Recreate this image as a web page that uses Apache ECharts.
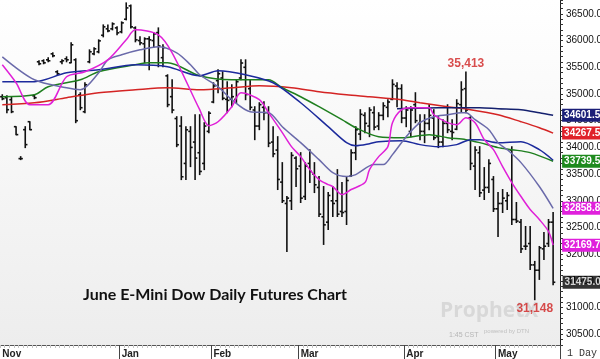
<!DOCTYPE html>
<html><head><meta charset="utf-8">
<script src="https://cdn.jsdelivr.net/npm/echarts@6.0.0/dist/echarts.min.js"></script>
<style>html,body{margin:0;padding:0;background:#fff}#c{width:600px;height:359px}</style>
</head><body><div id="c"></div>
<script>
// ---- categories: trading days Nov 24 2021 .. May 18 2022 ----
const dates = ['11/24','11/26','11/29','11/30',
'12/1','12/2','12/3','12/6','12/7','12/8','12/9','12/10','12/13','12/14','12/15','12/16','12/17','12/20','12/21','12/22','12/23','12/27','12/28','12/29','12/30','12/31',
'1/3','1/4','1/5','1/6','1/7','1/10','1/11','1/12','1/13','1/14','1/18','1/19','1/20','1/21','1/24','1/25','1/26','1/27','1/28','1/31',
'2/1','2/2','2/3','2/4','2/7','2/8','2/9','2/10','2/11','2/14','2/15','2/16','2/17','2/18','2/22','2/23','2/24','2/25','2/28',
'3/1','3/2','3/3','3/4','3/7','3/8','3/9','3/10','3/11','3/14','3/15','3/16','3/17','3/18','3/21','3/22','3/23','3/24','3/25','3/28','3/29','3/30','3/31',
'4/1','4/4','4/5','4/6','4/7','4/8','4/11','4/12','4/13','4/14','4/18','4/19','4/20','4/21','4/22','4/25','4/26','4/27','4/28','4/29',
'5/2','5/3','5/4','5/5','5/6','5/9','5/10','5/11','5/12','5/13','5/16','5/17','5/18'];
const monthNames = {'11':'Nov','1':'Jan','2':'Feb','3':'Mar','4':'Apr','5':'May'};

// ---- OHLC ----
const opens = [34949,34930,34893,34388,33790,34332,34481,34967,35603,35622,35640,35752,35416,35603,35659,35584,35640,34986,34668,35603,35752,35790,36100,36220,36220,36238,
36164,36400,36650,36238,36000,35940,36033,36000,36150,35680,35340,34950,34540,34400,33700,34300,34100,33900,33700,34300,
34850,35250,35300,34900,34900,34900,35300,35500,35100,34700,34400,34750,34650,34100,33950,33350,32950,33000,33800,
33650,33080,33700,33500,33250,32700,32600,33000,33000,32800,32800,33460,33900,34250,34600,34400,34650,34400,34600,34750,34900,35150,35100,
34550,34300,34800,34450,34300,34450,34550,34200,34100,34450,34300,34340,34800,35100,34550,33650,33900,33200,33250,33400,
32850,32950,33000,33950,32650,32600,32150,32200,31800,31700,32100,32200,32600];
const highs = [34986,34967,34949,34388,33827,34388,34481,34986,35622,35640,35678,35771,35435,35640,35696,35958,35659,35024,35210,35827,35865,36014,36294,36294,36332,36257,
36351,36706,36668,36257,36070,36052,36070,36145,36238,35921,35360,35266,34575,34575,34388,34388,34612,34612,34463,34668,
35210,35453,35416,35229,35173,35266,35640,35640,35266,34762,34836,34855,34762,34388,34201,33715,33080,33902,33827,
33902,33715,33958,33715,33454,33267,33154,33267,33584,33341,33454,33958,34388,34706,34650,34743,34762,34650,34836,34893,35266,35210,35173,
34762,34762,35024,34612,34612,34799,34706,34575,34519,34799,34519,34893,35229,35413,34575,34014,34014,33622,33771,33454,
33154,33211,33154,34014,32968,32650,32519,32519,31865,32145,32407,32650,32781];
const lows = [34893,34650,34650,34239,33771,33996,34332,34911,35547,35566,35603,35696,35360,35566,35603,35584,34463,34706,34650,35584,35734,35771,36070,36164,36201,36108,
36145,36388,36238,35977,35921,35584,35453,35883,35510,35510,34762,34650,34014,33397,33397,33640,33397,33491,33584,34276,
34836,35024,34893,34650,34762,34836,35266,34893,34706,34145,34332,34519,34014,33827,33211,32968,32052,32837,33267,
32968,33024,33341,33154,32706,32183,32463,32706,32706,32706,32556,33454,33771,34145,34276,34201,34332,34332,34519,34575,34893,34762,34463,
34388,34201,34463,34145,34089,34332,34145,33996,34014,34276,34145,34332,34668,34650,33584,33211,33080,33024,33154,32800,
32332,32781,32837,32556,32593,32033,32089,31715,31148,31528,31902,32145,31430];
const closes = [34911,34706,34668,34239,33790,34052,34332,34930,35566,35584,35622,35715,35378,35622,35640,35921,34500,34743,35173,35790,35846,35995,36257,36182,36313,36145,
36332,36612,36257,36014,35958,36033,36014,36126,35900,35870,34800,34700,34050,33450,34330,34000,33800,33550,34400,34640,
35150,35380,34920,34880,34950,35230,35580,34990,34750,34400,34800,34650,34080,33880,33400,33000,33050,33850,33600,
33050,33650,33550,33300,32750,32550,33100,32950,32750,32780,33380,33900,34330,34620,34450,34700,34380,34600,34780,34850,35180,35100,34550,
34700,34700,34500,34300,34450,34600,34180,34100,34450,34330,34280,34820,35080,34700,33700,33950,33150,33250,33700,32850,
32950,33050,33100,32650,32620,32100,32150,31800,31700,32120,32150,32600,31475];

// ---- moving averages, read at sampled days: [dayIndex, value] ----
const maMagenta = [[0,35547],[3,35210],[6,34799],[10,34799],[14,35322],[18,35416],[23,35640],[27,36014],[29,36201],[34,36108],[37,35771],[43,34706],[45,34407],[47,34481],[50,34762],[52,35024],[56,34893],[58,34650],[61,34276],[63,34014],[65,33827],[67,33584],[69,33397],[71,33304],[72,33267],[74,33117],[76,33211],[79,33341],[80,33584],[82,33827],[84,34014],[85,34463],[87,34706],[89,34743],[93,34743],[94,34612],[97,34463],[99,34425],[101,34556],[103,34463],[105,34145],[107,33958],[109,33640],[111,33341],[113,33080],[115,32837],[117,32650],[119,32425],[120,32169.70]];
const maSlate = [[0,35696],[7,35266],[14,35117],[17,35080],[21,35397],[23,35640],[26,35734],[30,35827],[34,35883],[38,35771],[41,35547],[43,35360],[47,35136],[50,34893],[54,34668],[58,34650],[61,34388],[65,34089],[69,33771],[72,33528],[75,33454],[77,33491],[81,33678],[83,33678],[85,33865],[88,34201],[91,34463],[94,34575],[97,34612],[100,34650],[101,34650],[103,34519],[106,34332],[108,34089],[110,33958],[113,33715],[117,33267],[120,32858.85]];
const maBlue = [[0,35229],[7,35229],[14,35397],[21,35453],[29,35547],[36,35510],[43,35341],[47,35435],[53,35360],[59,35210],[65,34836],[71,34388],[75,34089],[77,34033],[80,34070],[82,34108],[87,34126],[91,34052],[95,34014],[99,34052],[102,34145],[104,34145],[108,34089],[113,34108],[117,33958],[120,33760]];
const maGreen = [[0,34949],[7,34986],[10,35136],[17,35266],[21,35416],[29,35547],[32,35584],[36,35584],[43,35341],[50,35266],[58,35266],[61,35117],[65,34949],[69,34762],[74,34519],[77,34369],[82,34201],[87,34182],[93,34239],[97,34182],[101,34145],[104,34089],[108,33996],[111,33958],[115,33902],[120,33739.50]];
const maRed = [[0,34799],[7,34836],[14,34930],[21,35024],[29,35080],[36,35117],[43,35080],[50,35117],[56,35154],[63,35117],[69,35042],[75,34986],[80,34949],[87,34893],[91,34836],[97,34762],[102,34706],[108,34612],[113,34481],[117,34369],[120,34267.55]];
const maNavy = [[86,34724],[95,34743],[104,34743],[108,34724],[113,34706],[117,34650],[120,34601.50]];

const extremes = [[101,35413,'35,413','top'],[116,31148,'31,148','bottom']];
const lastClose = [[120,31475]];
const yTickStep = 500;

const chart = echarts.init(document.getElementById('c'), null, {renderer:'canvas'});
const cats = dates.concat(['']);
const monthOf = i => (i < dates.length ? dates[i].split('/')[0] : null);
const isMonthStart = i => i < dates.length && (i === 0 || monthOf(i) !== monthOf(i-1));
const ohlc = opens.map((o,i)=>[i,o,closes[i],lows[i],highs[i]]);
const FONT = 'Liberation Sans, Arial, sans-serif';

function maSeries(name, data, color, labelBg, showLabel){
  return {
    type:'line', name, data, smooth:0.3, symbol:'none', showSymbol:false, clip:false,
    lineStyle:{color, width:1.5}, z:3, silent:true,
    endLabel: showLabel ? {
      show:true, distance:9, formatter: p => Number(p.value[1]).toFixed(2),
      color:'#fff', backgroundColor: labelBg, padding:[2,3,1,2],
      fontSize:10, fontWeight:'bold', fontFamily:FONT, align:'left', verticalAlign:'middle'
    } : {show:false}
  };
}

chart.setOption({
  animation:false,
  backgroundColor:'#fff',
  grid:{left:0, top:0, width:560, bottom:14, show:true, borderWidth:0, containLabel:false, outerBoundsMode:'none',
    backgroundColor: new echarts.graphic.LinearGradient(0,0,0,1,[{offset:0,color:'#ffffff'},{offset:1,color:'#ededed'}])},
  xAxis:[{
    type:'category', data:cats, boundaryGap:true, position:'bottom',
    axisLine:{show:true, lineStyle:{color:'#555', width:1}},
    axisTick:{show:true, interval:0, length:3, lineStyle:{color:'#c4c4c4'}},
    axisLabel:{show:true, interval:(i)=>isMonthStart(i) && !!monthNames[monthOf(i)],
      formatter:(v,i)=>monthNames[monthOf(i)] || '', align:'left', margin:4,
      fontSize:10, fontWeight:'bold', color:'#222', fontFamily:FONT},
    splitLine:{show:false}
  },{
    type:'category', data:cats, boundaryGap:true, position:'bottom',
    axisLine:{show:false}, axisLabel:{show:false}, splitLine:{show:false},
    axisTick:{show:true, interval:(i)=>i>0 && isMonthStart(i) && !!monthNames[monthOf(i)], length:14, lineStyle:{color:'#444', width:1}}
  }],
  yAxis:{
    type:'value', position:'right', min:30300, max:36760, interval:100, scale:true,
    axisLine:{show:true, lineStyle:{color:'#222', width:1}},
    axisTick:{show:true, length:3, lineStyle:{color:'#333'}},
    splitLine:{show:false},
    axisLabel:{margin:6, fontSize:10, color:'#111', fontFamily:FONT,
      formatter:v => (Math.round(v) % yTickStep === 0 ? v.toFixed(2) : '')}
  },
  series:[
    {
      type:'custom', name:'bars', data:ohlc, encode:{x:0, y:[1,2,3,4]}, z:2, clip:false,
      renderItem:function(params, api){
        const i = api.value(0);
        const pO = api.coord([i, api.value(1)]);
        const pC = api.coord([i, api.value(2)]);
        const pL = api.coord([i, api.value(3)]);
        const pH = api.coord([i, api.value(4)]);
        const x = pH[0], w = 2.2;
        const st = {stroke:'#111', lineWidth:1.6};
        return {type:'group', children:[
          {type:'line', shape:{x1:x, y1:pH[1]-0.5, x2:x, y2:pL[1]+0.5}, style:st},
          {type:'line', shape:{x1:x-w, y1:pO[1], x2:x, y2:pO[1]}, style:st},
          {type:'line', shape:{x1:x, y1:pC[1], x2:x+w, y2:pC[1]}, style:st}
        ]};
      }
    },
    maSeries('MA red', maRed, '#d42424', '#e0222a', true),
    maSeries('MA green', maGreen, '#1f7f1f', '#1e8a1e', true),
    maSeries('MA blue', maBlue, '#1c2a9c', '#1c2a9c', false),
    maSeries('MA slate', maSlate, '#6a6aaa', '#e020dc', true),
    maSeries('MA navy', maNavy, '#14206e', '#1b1f78', true),
    maSeries('MA magenta', maMagenta, '#e020d8', '#e020dc', true),
    {
      type:'scatter', data:lastClose, symbolSize:1, itemStyle:{color:'rgba(0,0,0,0)'}, z:5, silent:true,
      label:{show:true, position:'right', distance:9, formatter:p=>p.value[1].toFixed(2),
        color:'#fff', backgroundColor:'#000', padding:[2,3,1,2], fontSize:10, fontWeight:'bold', fontFamily:FONT}
    },
    {
      type:'scatter', symbolSize:1, itemStyle:{color:'rgba(0,0,0,0)'}, z:5, silent:true,
      data: extremes.map(e=>({value:[e[0],e[1]], label:{show:true, position:e[3], distance:2, formatter:e[2]}})),
      label:{show:true, color:'#d02020', fontSize:12, fontWeight:'bold', fontFamily:FONT}
    }
  ],
  graphic:[
    {type:'text', left:440, top:301, z:0, silent:true, style:{text:'ProphetX', font:'bold 21px "Open Sans", sans-serif', fill:'#d8d8d8'}},
    {type:'text', left:484, top:328, z:0, silent:true, style:{text:'powered by DTN', font:'6px "Liberation Sans", sans-serif', fill:'#c0c0c0'}},
    {type:'text', left:449, top:332, z:0, silent:true, style:{text:'1:45 CST', font:'7px "Liberation Sans", sans-serif', fill:'#b5b5b5'}},
    {type:'text', left:83, top:287, z:10, silent:true, style:{text:'June E-Mini Dow Daily Futures Chart', font:'bold 16px Lato, sans-serif', fill:'#111'}},
    {type:'text', left:567, top:348, z:10, silent:true, style:{text:'1 Day', font:'10px "Liberation Mono", monospace', fill:'#333'}},
    {type:'line', z:10, silent:true, shape:{x1:560.5, y1:345, x2:560.5, y2:359}, style:{stroke:'#444', lineWidth:1}}
  ]
});
</script>
</body></html>
